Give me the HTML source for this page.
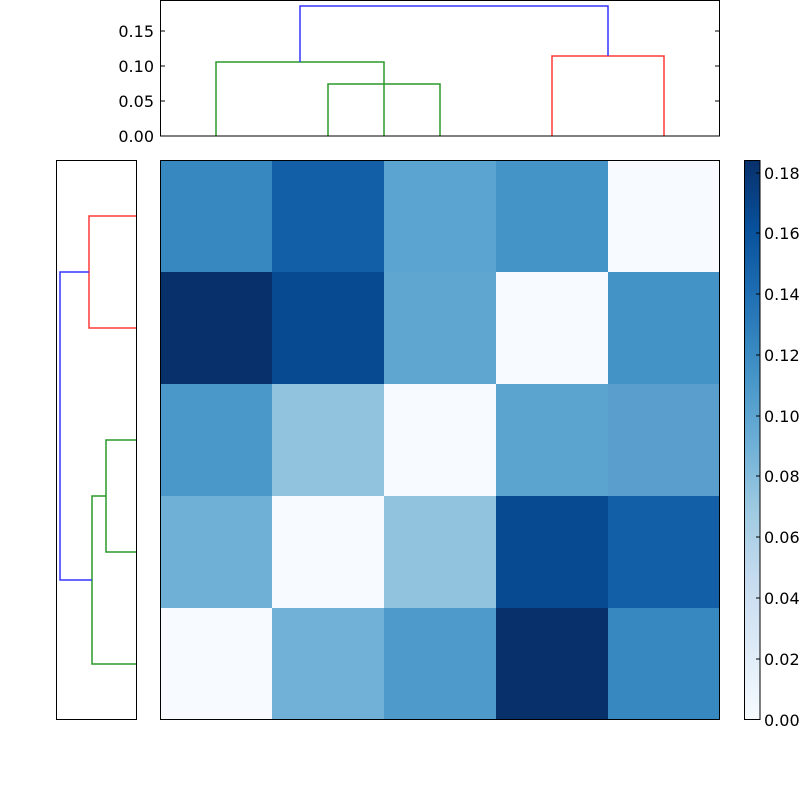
<!DOCTYPE html>
<html><head><meta charset="utf-8"><style>
html,body{margin:0;padding:0;background:#fff;}
svg text{font-family:"DejaVu Sans","Liberation Sans",sans-serif;font-size:16px;fill:#000;}
</style></head><body>
<svg width="800" height="800" viewBox="0 0 800 800" xmlns="http://www.w3.org/2000/svg">
<defs>
<linearGradient id="bl" x1="0" y1="1" x2="0" y2="0">
<stop offset="0" stop-color="#f7fbff"/><stop offset="0.125" stop-color="#deebf7"/>
<stop offset="0.25" stop-color="#c6dbef"/><stop offset="0.375" stop-color="#9ecae1"/>
<stop offset="0.5" stop-color="#6baed6"/><stop offset="0.625" stop-color="#4292c6"/>
<stop offset="0.75" stop-color="#2171b5"/><stop offset="0.875" stop-color="#08519c"/>
<stop offset="1" stop-color="#08306b"/>
</linearGradient>
</defs>
<!-- top dendrogram -->
<g fill="none" stroke-width="1.5">
<path d="M216 136V62H384V136 M328 136V84H440V136" stroke="#2a9a2a"/>
<path d="M552 136V56H664V136" stroke="#ff3a3a"/>
<path d="M300 62V6H608V56" stroke="#3535ff"/>
</g>
<rect x="160.5" y="0.5" width="559" height="135.5" fill="none" stroke="#000"/>
<g stroke="#000"><path d="M160 101h5M160 66h5M160 31h5M720 101h-5M720 66h-5M720 31h-5"/></g>
<g text-anchor="end"><text x="154" y="142">0.00</text><text x="154" y="107">0.05</text><text x="154" y="72">0.10</text><text x="154" y="37">0.15</text></g>
<!-- left dendrogram -->
<g fill="none" stroke-width="1.5">
<path d="M136 216H89V328H136" stroke="#ff3a3a"/>
<path d="M136 440H106V552H136 M106 496H92V664H136" stroke="#2a9a2a"/>
<path d="M89 272H60V580H92" stroke="#3535ff"/>
</g>
<rect x="56.5" y="160.5" width="80" height="559" fill="none" stroke="#000"/>
<!-- heatmap -->
<g shape-rendering="crispEdges">
<rect x="160" y="160" width="112" height="112" fill="#3787c0"/><rect x="272" y="160" width="112" height="112" fill="#135fa7"/><rect x="384" y="160" width="112" height="112" fill="#5ba3d0"/><rect x="496" y="160" width="112" height="112" fill="#4594c7"/><rect x="608" y="160" width="112" height="112" fill="#f7fbff"/>
<rect x="160" y="272" width="112" height="112" fill="#08306b"/><rect x="272" y="272" width="112" height="112" fill="#084a91"/><rect x="384" y="272" width="112" height="112" fill="#5fa6d1"/><rect x="496" y="272" width="112" height="112" fill="#f7fbff"/><rect x="608" y="272" width="112" height="112" fill="#4493c7"/>
<rect x="160" y="384" width="112" height="112" fill="#4a98c9"/><rect x="272" y="384" width="112" height="112" fill="#91c3de"/><rect x="384" y="384" width="112" height="112" fill="#f7fbff"/><rect x="496" y="384" width="112" height="112" fill="#5ca4d0"/><rect x="608" y="384" width="112" height="112" fill="#5a9ecd"/>
<rect x="160" y="496" width="112" height="112" fill="#6fb0d7"/><rect x="272" y="496" width="112" height="112" fill="#f7fbff"/><rect x="384" y="496" width="112" height="112" fill="#91c3de"/><rect x="496" y="496" width="112" height="112" fill="#084a91"/><rect x="608" y="496" width="112" height="112" fill="#135fa7"/>
<rect x="160" y="608" width="112" height="112" fill="#f7fbff"/><rect x="272" y="608" width="112" height="112" fill="#71b1d7"/><rect x="384" y="608" width="112" height="112" fill="#4e9acb"/><rect x="496" y="608" width="112" height="112" fill="#08306b"/><rect x="608" y="608" width="112" height="112" fill="#3787c0"/>
</g>
<rect x="160.5" y="160.5" width="559" height="559" fill="none" stroke="#000"/>
<!-- colorbar -->
<rect x="744" y="160" width="16" height="560" fill="url(#bl)"/>
<rect x="744.5" y="160.5" width="15.5" height="559" fill="none" stroke="#000"/>
<g stroke="#000"><path d="M760 659h-4M760 598h-4M760 537h-4M760 476h-4M760 416h-4M760 355h-4M760 294h-4M760 233h-4M760 173h-4"/></g>
<g text-anchor="start">
<text x="764" y="726">0.00</text><text x="764" y="665">0.02</text><text x="764" y="604">0.04</text><text x="764" y="543">0.06</text><text x="764" y="482">0.08</text><text x="764" y="422">0.10</text><text x="764" y="361">0.12</text><text x="764" y="300">0.14</text><text x="764" y="239">0.16</text><text x="764" y="179">0.18</text>
</g>
</svg>
</body></html>
